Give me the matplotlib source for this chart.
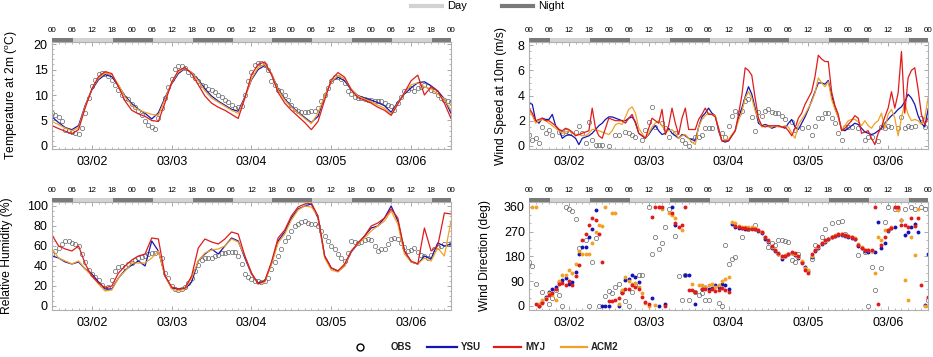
import numpy as np
import matplotlib
matplotlib.use('Agg')
import matplotlib.pyplot as plt
from matplotlib.lines import Line2D
from matplotlib.ticker import MultipleLocator

plt.rcParams['font.family'] = ['Liberation Sans', 'DejaVu Sans']
plt.rcParams['mathtext.fontset'] = 'custom'
plt.rcParams['mathtext.rm'] = 'Liberation Sans'

nan = np.nan

# time axis: hours since 03/02 00
hours = np.arange(0, 121)        # hourly values
hours2 = np.arange(0, 121, 2)    # 2-hourly model output (T, RH)
date_ticks = [12, 36, 60, 84, 108]
date_labels = ['03/02', '03/03', '03/04', '03/05', '03/06']
hour_ticks = np.arange(0, 121, 6)
hour_labels = ['%02d' % (h % 24) for h in hour_ticks]
sunrise, sunset = 6.3, 18.3

# ---- temperature at 2m (C) ----
t_obs = [6.5, 6.1, 5.6, 4.8, 3.2, 2.9, 2.8, 2.6, 2.4, 3.6,
         6.5, 9.5, 11.7, 13.0, 14.1, 14.3, 14.1, 13.8, 13.0, 12.0,
         11.0, 10.0, 9.5, 9.3, 8.2, 7.6, 6.9, 6.0, 4.8, 4.1,
         3.7, 3.4, 5.5, 7.4, 9.5, 11.5, 13.2, 15.2, 15.6, 15.6,
         15.3, 14.6, 14.0, 13.3, 12.7, 12.0, 11.7, 11.2, 10.9, 10.6,
         10.0, 9.7, 9.0, 8.6, 8.1, 7.5, 7.6, 7.9, 10.0, 12.7,
         14.6, 15.8, 16.3, 16.3, 15.8, 15.0, 12.7, 12.0, 11.0, 10.7,
         10.0, 9.1, 8.1, 7.3, 6.9, 6.7, 6.7, 6.7, 6.8, 6.9,
         7.5, 8.8, 10.0, 11.4, 12.7, 13.5, 13.5, 13.2, 12.4, 10.8,
         10.2, 9.7, 9.5, 9.4, 9.3, 9.1, 9.1, 8.9, 8.9, 8.8,
         8.4, 8.1, 7.8, 7.1, 8.4, 9.6, 10.7, 11.0, 11.3, 10.7,
         11.4, 11.6, 11.9, 11.8, 11.0, 10.7, 10.0, 9.5, 9.0, 8.8,
         8.6]
t_ysu = [5.7, 4.6, 3.6, 3.2, 4.0, 8.0, 11.0, 13.0, 14.0, 13.6,
         11.8, 9.8, 8.3, 7.2, 6.4, 5.3, 6.5, 9.5, 12.2, 14.2,
         15.2, 14.4, 13.0, 11.2, 9.8, 8.8, 8.0, 7.2, 6.8, 9.6,
         13.0, 15.0, 15.8, 14.2, 11.2, 9.2, 7.8, 6.6, 5.6, 4.6,
         5.8, 9.8, 12.6, 13.5, 12.8, 11.0, 9.9, 9.4, 9.0, 8.5,
         7.9, 6.6, 8.6, 10.2, 11.4, 12.4, 12.6, 11.8, 10.8, 9.2,
         6.4]
t_myj = [4.0, 3.4, 2.9, 2.4, 3.2, 7.5, 11.2, 13.6, 14.6, 14.2,
         11.6, 8.8, 7.0, 6.3, 5.8, 5.0, 4.8, 8.5, 12.5, 14.8,
         15.4, 14.2, 12.0, 9.8, 8.4, 7.6, 7.0, 6.2, 5.4, 9.4,
         14.0, 16.0, 16.5, 14.0, 10.5, 8.4, 7.0, 5.8, 4.6, 3.2,
         4.8, 9.0, 13.0, 14.4, 13.5, 11.0, 9.5, 9.0, 8.4, 7.6,
         7.0, 6.0, 8.2, 10.5, 12.8, 13.9, 10.0, 11.6, 10.8, 8.4,
         5.4]
t_acm2 = [4.8, 4.2, 3.5, 3.0, 3.6, 7.8, 11.2, 13.3, 14.3, 14.0,
          12.0, 9.6, 8.0, 7.1, 6.6, 6.2, 6.0, 9.2, 12.4, 14.5,
          15.3, 14.4, 12.8, 10.8, 9.4, 8.6, 7.8, 7.0, 6.4, 9.4,
          13.2, 15.4, 16.0, 14.2, 11.0, 9.0, 7.6, 6.5, 5.4, 4.4,
          6.4, 9.8, 12.6, 13.8, 13.2, 11.2, 9.8, 9.2, 8.7, 8.0,
          7.4, 6.2, 8.4, 10.4, 12.0, 12.4, 11.6, 11.2, 10.2, 9.2,
          7.0]

# ---- wind speed at 10m (m/s) ----
ws_obs = [0.85, 0.5, 0.65, 0.2, 1.5, 1.0, 1.3, 0.9, nan, 1.1,
          1.0, 1.2, 1.0, nan, 1.1, 1.6, 1.0, 0.2, 1.9, 0.5,
          0.05, 0.1, 0.05, nan, 0.0, nan, 0.85, 0.85, nan, 1.1,
          1.0, 0.85, 0.7, nan, 0.5, 1.25, 1.9, 3.1, 1.5, nan,
          1.8, 1.4, 0.7, nan, 1.0, nan, 0.45, 0.2, 0.0, 0.45,
          0.7, 0.7, 0.85, 1.4, 1.4, 1.4, nan, nan, 1.0, 0.7,
          1.6, 2.4, 2.8, 2.6, 2.8, 3.6, 3.7, 2.3, 1.2, 2.7,
          2.4, 2.8, 2.9, 2.7, 2.6, 2.6, 2.4, 2.1, nan, 1.9,
          1.3, nan, 1.4, nan, 1.5, 0.85, 1.6, 2.2, 2.2, 2.6,
          2.6, 2.2, 1.8, 1.0, 0.45, 1.5, 1.5, 1.5, nan, 1.4,
          nan, 0.45, 0.7, 0.7, nan, 0.4, 1.5, 1.4, 1.6, 1.5,
          nan, 1.4, 2.3, 1.4, 1.6, 1.5, 1.6, nan, 2.2, 1.5,
          nan]
ws_ysu = [3.4, 3.3, 2.0, 1.8, 2.2, 2.1, 2.1, 2.5, 1.6, 1.3,
          0.6, 0.8, 0.9, 0.8, 0.6, 0.1, 0.6, 0.7, 0.8, 1.0,
          1.3, 1.6, 1.8, 2.1, 2.3, 2.3, 2.2, 2.1, 2.0, 2.0,
          2.2, 2.3, 1.9, 1.0, 0.8, 0.6, 0.9, 1.3, 1.6, 1.2,
          0.9, 1.0, 1.4, 1.0, 0.8, 0.6, 0.9, 0.8, 0.6, 0.5,
          0.4, 1.5, 2.3, 2.6, 3.0, 2.6, 2.4, 1.2, 0.4, 0.3,
          0.4, 0.8, 1.2, 2.2, 3.0, 3.9, 4.7, 4.1, 3.0, 1.8,
          1.6, 1.7, 1.6, 1.4, 1.5, 1.6, 1.5, 1.4, 1.8, 2.1,
          1.5, 1.3, 1.8, 2.3, 2.9, 3.6, 4.3, 5.0, 5.0, 4.9,
          5.2, 4.0, 3.0, 2.3, 1.3, 1.2, 1.4, 1.6, 1.8, 1.7,
          1.4, 1.1, 1.0, 0.9, 1.0, 1.2, 1.4, 1.8, 2.1, 2.4,
          2.6, 2.9, 3.1, 3.5, 4.1, 3.8, 3.3, 2.4, 1.8, 1.5,
          2.9]
ws_myj = [3.0, 2.6, 2.0, 2.1, 2.2, 2.0, 2.0, 1.8, 1.6, 1.3,
          1.2, 1.4, 1.3, 1.1, 0.8, 0.9, 1.0, 1.1, 1.2, 3.0,
          1.4, 0.8, 0.6, 1.4, 2.2, 2.1, 2.0, 2.0, 2.0, 1.8,
          2.2, 2.5, 1.8, 1.0, 0.8, 0.6, 1.4, 2.2, 2.0, 1.8,
          2.9, 0.9, 1.6, 3.0, 1.8, 0.9, 2.2, 3.0, 1.3, 1.3,
          1.3, 2.1, 2.5, 3.0, 2.5, 2.5, 2.3, 1.4, 0.4, 0.4,
          0.4, 0.8, 1.2, 2.5, 4.0, 6.2, 6.0, 5.6, 3.8, 2.2,
          1.6, 1.5, 1.6, 1.6, 1.6, 1.6, 1.5, 1.5, 1.2, 0.8,
          1.4, 2.2, 2.6, 3.3, 3.8, 4.3, 5.5, 7.2, 6.9, 6.7,
          6.7, 4.3, 3.2, 2.5, 1.2, 1.4, 1.7, 2.0, 2.4, 2.2,
          1.0, 1.1, 1.2, 0.6, 0.1, 1.0, 1.5, 2.3, 3.0, 4.3,
          3.0, 4.2, 7.5, 2.6, 5.4, 6.0, 6.2, 4.5, 2.5, 1.7,
          2.2]
ws_acm2 = [2.9, 2.4, 1.8, 2.0, 2.1, 2.0, 1.8, 1.6, 1.4, 1.2,
           1.0, 1.1, 1.2, 1.0, 0.9, 0.9, 0.8, 0.8, 1.0, 1.3,
           1.3, 1.2, 1.1, 1.0, 0.9, 1.2, 1.7, 1.8, 1.7, 2.3,
           2.9, 3.1, 2.6, 1.4, 1.0, 0.6, 1.0, 1.5, 1.8, 2.0,
           1.6, 1.2, 1.2, 1.3, 1.0, 0.6, 0.8, 0.9, 0.6, 0.3,
           0.1, 1.5, 2.1, 2.4, 2.6, 2.5, 2.4, 1.4, 0.4, 0.5,
           0.5, 0.9, 1.2, 2.0, 2.7, 3.8, 4.3, 3.8, 2.8, 2.1,
           1.5, 1.6, 1.5, 1.5, 1.6, 1.5, 1.5, 1.6, 1.5, 1.0,
           0.6, 1.7, 2.1, 2.5, 3.0, 3.5, 4.2, 5.4, 5.0, 4.7,
           5.1, 3.7, 2.9, 2.3, 1.3, 1.6, 2.0, 2.1, 2.1, 1.9,
           1.6, 2.0, 1.6, 1.4, 1.8, 2.0, 2.6, 1.4, 2.5, 2.9,
           2.2, 0.8, 2.2, 3.4, 2.5, 2.0, 2.1, 2.0, 1.7, 2.2,
           3.8]

# ---- relative humidity (%) ----
rh_obs = [52, 55, 58, 62, 65, 65, 63, 62, 60, 52,
          44, 36, 32, 29, 26, 21, 18, 19, 26, 35,
          39, 40, 39, 42, 43, 46, 48, 49, 50, 52,
          53, 53, nan, 48, 33, 28, 20, 17, 16, 17,
          19, 23, 28, 35, 41, 46, 48, 48, 48, 50,
          51, 53, 53, 54, 54, 54, 50, 42, 32, 29,
          27, 25, 25, 24, 25, 28, 37, 44, 50, 57,
          65, 69, 75, 80, 82, 84, 85, 83, 82, 82,
          80, 75, 70, 65, 60, 57, 52, 48, 45, 53,
          65, 64, 63, 64, 66, 67, 66, 60, 55, 57,
          57, 62, 67, 68, 67, 63, 59, 55, 56, 58,
          54, 51, 50, 48, 51, 57, 59, 60, 62, 62,
          62]
rh_ysu = [50, 48, 44, 42, 44, 37, 32, 24, 17, 17,
          28, 36, 41, 45, 40, 65, 55, 30, 18, 17,
          17, 24, 45, 52, 57, 52, 60, 68, 65, 48,
          32, 23, 25, 42, 65, 74, 88, 97, 100, 102,
          88, 50, 38, 35, 40, 54, 62, 70, 78, 80,
          88, 100, 85, 55, 44, 42, 50, 47, 63, 60,
          62]
rh_myj = [71, 60, 57, 55, 60, 42, 30, 23, 18, 20,
          33, 40, 46, 50, 52, 68, 67, 30, 19, 17,
          18, 30, 58, 67, 64, 62, 67, 74, 72, 50,
          33, 22, 25, 44, 68, 76, 90, 99, 102, 103,
          90, 50, 38, 35, 42, 55, 63, 70, 80, 83,
          88, 97, 88, 55, 45, 42, 78, 55, 60, 93,
          92]
rh_acm2 = [57, 48, 45, 42, 45, 37, 30, 22, 15, 16,
           28, 35, 43, 43, 43, 48, 55, 30, 17, 15,
           17, 28, 45, 53, 56, 57, 60, 67, 64, 50,
           33, 22, 24, 42, 63, 72, 86, 96, 100, 99,
           90, 48, 36, 34, 40, 55, 62, 68, 75, 80,
           85, 95, 82, 52, 44, 42, 48, 45, 58, 50,
           85]

# ---- wind direction (deg) ----
wd_obs = [158, 145, 78, nan, 51, nan, 8, 27, 57, 39,
          0, 360, 352, 345, 315, 212, nan, 239, 0, 160,
          247, 0, nan, 36, 53, 45, 69, 78, 51, 17,
          0, 51, 75, 111, 111, nan, 360, 190, 251, 208,
          227, 287, 354, nan, 253, 109, 21, 111, 21, nan,
          51, 39, 45, 21, 21, nan, nan, 12, 0, 220,
          154, 172, 178, nan, 251, nan, 281, nan, 296, nan,
          nan, nan, 215, 227, 220, 239, 239, 235, 233, 166,
          160, 190, nan, nan, nan, 172, 220, nan, 251, 281,
          nan, 300, nan, 305, 308, 263, nan, nan, nan, 184,
          nan, 196, 0, 142, 57, nan, 136, 305, 360, nan,
          354, nan, nan, 354, nan, 360, 354, nan, 360, 354,
          21]
wd_ysu = [nan, nan, nan, 0, 15, 33, 51, 63, 70, 87,
          95, 100, 80, 87, 124, 190, 215, 215, 250, 281,
          348, nan, 0, 0, 0, nan, nan, 0, nan, 95,
          99, 111, 105, 87, nan, nan, nan, 27, nan, 0,
          nan, 5, nan, 360, 296, nan, nan, 111, 111, nan,
          8, nan, 63, 70, 63, 65, 75, 70, 81, 75,
          63, 299, 287, 283, 285, 280, 284, 282, 278, 272,
          265, 245, 232, 212, 200, 188, 172, 180, 188, 192,
          186, 175, 160, 140, 128, 178, 200, 212, 225, 232,
          242, 250, 255, 258, 258, 255, 250, 248, 242, 218,
          210, 200, 196, 198, 196, 305, 210, 230, 272, 285,
          287, 354, 311, 257, 270, 288, 299, 270, nan, 3,
          190]
wd_myj = [nan, nan, 8, 0, 10, 25, 40, 45, 60, 80,
          85, 75, 90, 75, 110, 148, 239, 260, 293, 318,
          312, 260, 158, nan, 17, 17, 20, 30, 45, 63,
          60, 75, 70, 63, 33, 15, 5, 324, 360, 360,
          360, 0, nan, 339, 300, 287, 293, 360, 57, 57,
          50, nan, 63, 60, 55, 62, 55, 58, 65, 57,
          50, nan, 292, 287, 283, 283, 280, 281, 280, 275,
          270, 252, 238, 218, 205, 192, 180, 182, 188, 195,
          192, 180, 155, 130, 118, 190, 205, 218, 230, 238,
          245, 252, 256, 260, 260, 258, 255, 250, 245, 222,
          212, 205, 202, 205, 360, 8, 220, 250, 275, 285,
          360, 360, 293, 293, 287, 318, 290, 318, 75, nan,
          33]
wd_acm2 = [nan, 360, 360, 5, 20, 30, 45, 40, 21, 90,
           111, 111, 130, 118, 154, 200, 190, 190, 190, 230,
           269, 296, 291, 360, nan, 339, 339, 5, 57, 105,
           90, 80, 85, 70, 45, 10, 0, nan, 3, 360,
           354, nan, 339, 330, 318, nan, 275, nan, nan, 80,
           nan, 75, 75, 70, 75, 80, 70, 75, 90, 99,
           105, 305, 300, 292, 287, 287, 286, 287, 284, 275,
           268, 250, 236, 215, 205, 190, 178, 185, 190, 194,
           190, 178, 165, 136, 130, 182, 202, 215, 228, 235,
           245, 251, 258, 262, 262, 258, 253, 250, 246, 225,
           215, 205, 202, 200, 118, 250, 240, 275, 275, 287,
           360, 350, 311, 93, 21, 251, 184, 354, nan, 0,
           0]

c_ysu, c_myj, c_acm2 = '#1414b4', '#e01b1b', '#f2a126'
c_obs = '#686868'
c_day, c_night = '#d2d2d2', '#7a7a7a'


def style_axes(ax, ylim, ystep, yminor, ylabel, label_x):
    ax.set_xlim(0, 120)
    ax.set_ylim(*ylim)
    ax.yaxis.set_major_locator(MultipleLocator(ystep))
    ax.yaxis.set_minor_locator(MultipleLocator(yminor))
    ax.set_xticks(date_ticks)
    ax.set_xticklabels(date_labels)
    ax.xaxis.set_minor_locator(MultipleLocator(2))
    ax.tick_params(which='both', direction='in', top=True, right=True,
                   color='#9a9a9a', labelsize=9)
    ax.tick_params(which='major', length=3, width=0.6)
    ax.tick_params(which='minor', length=1.6, width=0.5)
    ax.tick_params(axis='x', pad=5)
    ax.tick_params(axis='y', pad=3)
    for sp in ax.spines.values():
        sp.set_color('#b0b0b0')
        sp.set_linewidth(0.8)
    ax.set_ylabel(ylabel, fontsize=8.7)
    ax.yaxis.set_label_coords(label_x, 0.5)

    # day / night bar on top of the panel
    edges = [0]
    for d in range(5):
        edges += [24 * d + sunrise, 24 * d + sunset]
    edges.append(120)
    for i in range(len(edges) - 1):
        col = c_night if i % 2 == 0 else c_day
        band = ax.axvspan(edges[i], edges[i + 1], ymin=1.0, ymax=1.037,
                          color=col, lw=0, clip_on=False)
        band.set_clip_on(False)
    ax.set_xlim(0, 120)

    top = ax.secondary_xaxis('top')
    top.set_xticks(hour_ticks)
    top.set_xticklabels(hour_labels, fontsize=5.8)
    top.tick_params(length=0, pad=6)
    top.spines['top'].set_visible(False)


def draw_lines(ax, x, obs, ysu, myj, acm2, x_mod):
    ax.plot(x, obs, ls='none', marker='o', ms=3.1, mfc='none', mec=c_obs,
            mew=0.5)
    ax.plot(x_mod, ysu, color=c_ysu, lw=0.9)
    ax.plot(x_mod, acm2, color=c_acm2, lw=0.9)
    ax.plot(x_mod, myj, color=c_myj, lw=0.9)


fig = plt.figure(figsize=(9.33, 3.57), dpi=100)
ax_t = fig.add_axes([0.0557, 0.5826, 0.4277, 0.2997])
ax_ws = fig.add_axes([0.5670, 0.5826, 0.4277, 0.2997])
ax_rh = fig.add_axes([0.0557, 0.1317, 0.4277, 0.3025])
ax_wd = fig.add_axes([0.5670, 0.1317, 0.4277, 0.3025])

draw_lines(ax_t, hours, t_obs, t_ysu, t_myj, t_acm2, hours2)
style_axes(ax_t, (-0.6, 20.4), 5, 1, r'Temperature at 2m ($^{\rm o}$C)', -0.080)

draw_lines(ax_ws, hours, ws_obs, ws_ysu, ws_myj, ws_acm2, hours)
style_axes(ax_ws, (-0.25, 8.25), 2, 0.5, 'Wind Speed at 10m (m/s)', -0.055)

draw_lines(ax_rh, hours, rh_obs, rh_ysu, rh_myj, rh_acm2, hours2)
style_axes(ax_rh, (-4, 104), 20, 5, 'Relative Humidity (%)', -0.098)

ax_wd.plot(hours, wd_obs, ls='none', marker='o', ms=3.1, mfc='none',
           mec=c_obs, mew=0.5)
ax_wd.plot(hours, wd_ysu, ls='none', marker='o', ms=2.8, color=c_ysu, mew=0)
ax_wd.plot(hours, wd_acm2, ls='none', marker='o', ms=2.8, color=c_acm2, mew=0)
ax_wd.plot(hours, wd_myj, ls='none', marker='o', ms=2.8, color=c_myj, mew=0)
style_axes(ax_wd, (-15, 378), 90, 30, 'Wind Direction (deg)', -0.095)

# top legend: day / night
for x0, x1, col, txt in [(411, 442, c_day, 'Day'), (502, 533, c_night, 'Night')]:
    fig.add_artist(Line2D([x0 / 933, x1 / 933], [0.983, 0.983], color=col,
                          lw=3, transform=fig.transFigure))
    fig.text((x1 + 5) / 933, 0.983, txt, fontsize=8, va='center', ha='left')

# bottom legend: obs and models
ly = 0.029
fig.add_artist(Line2D([360 / 933], [ly], ls='none', marker='o', ms=5,
                      mfc='none', mec='black', mew=1.0,
                      transform=fig.transFigure))
fig.text(391 / 933, ly, 'OBS', fontsize=7, fontweight='bold', va='center',
         color='#222222')
for x0, x1, col, txt in [(427, 457, c_ysu, 'YSU'), (494, 521, c_myj, 'MYJ'),
                         (561, 587, c_acm2, 'ACM2')]:
    fig.add_artist(Line2D([x0 / 933, x1 / 933], [ly, ly], color=col, lw=1.6,
                          transform=fig.transFigure))
    fig.text((x1 + 4) / 933, ly, txt, fontsize=7, fontweight='bold',
             va='center', color='#222222')

fig.savefig('out.png', dpi=100, facecolor='white')
